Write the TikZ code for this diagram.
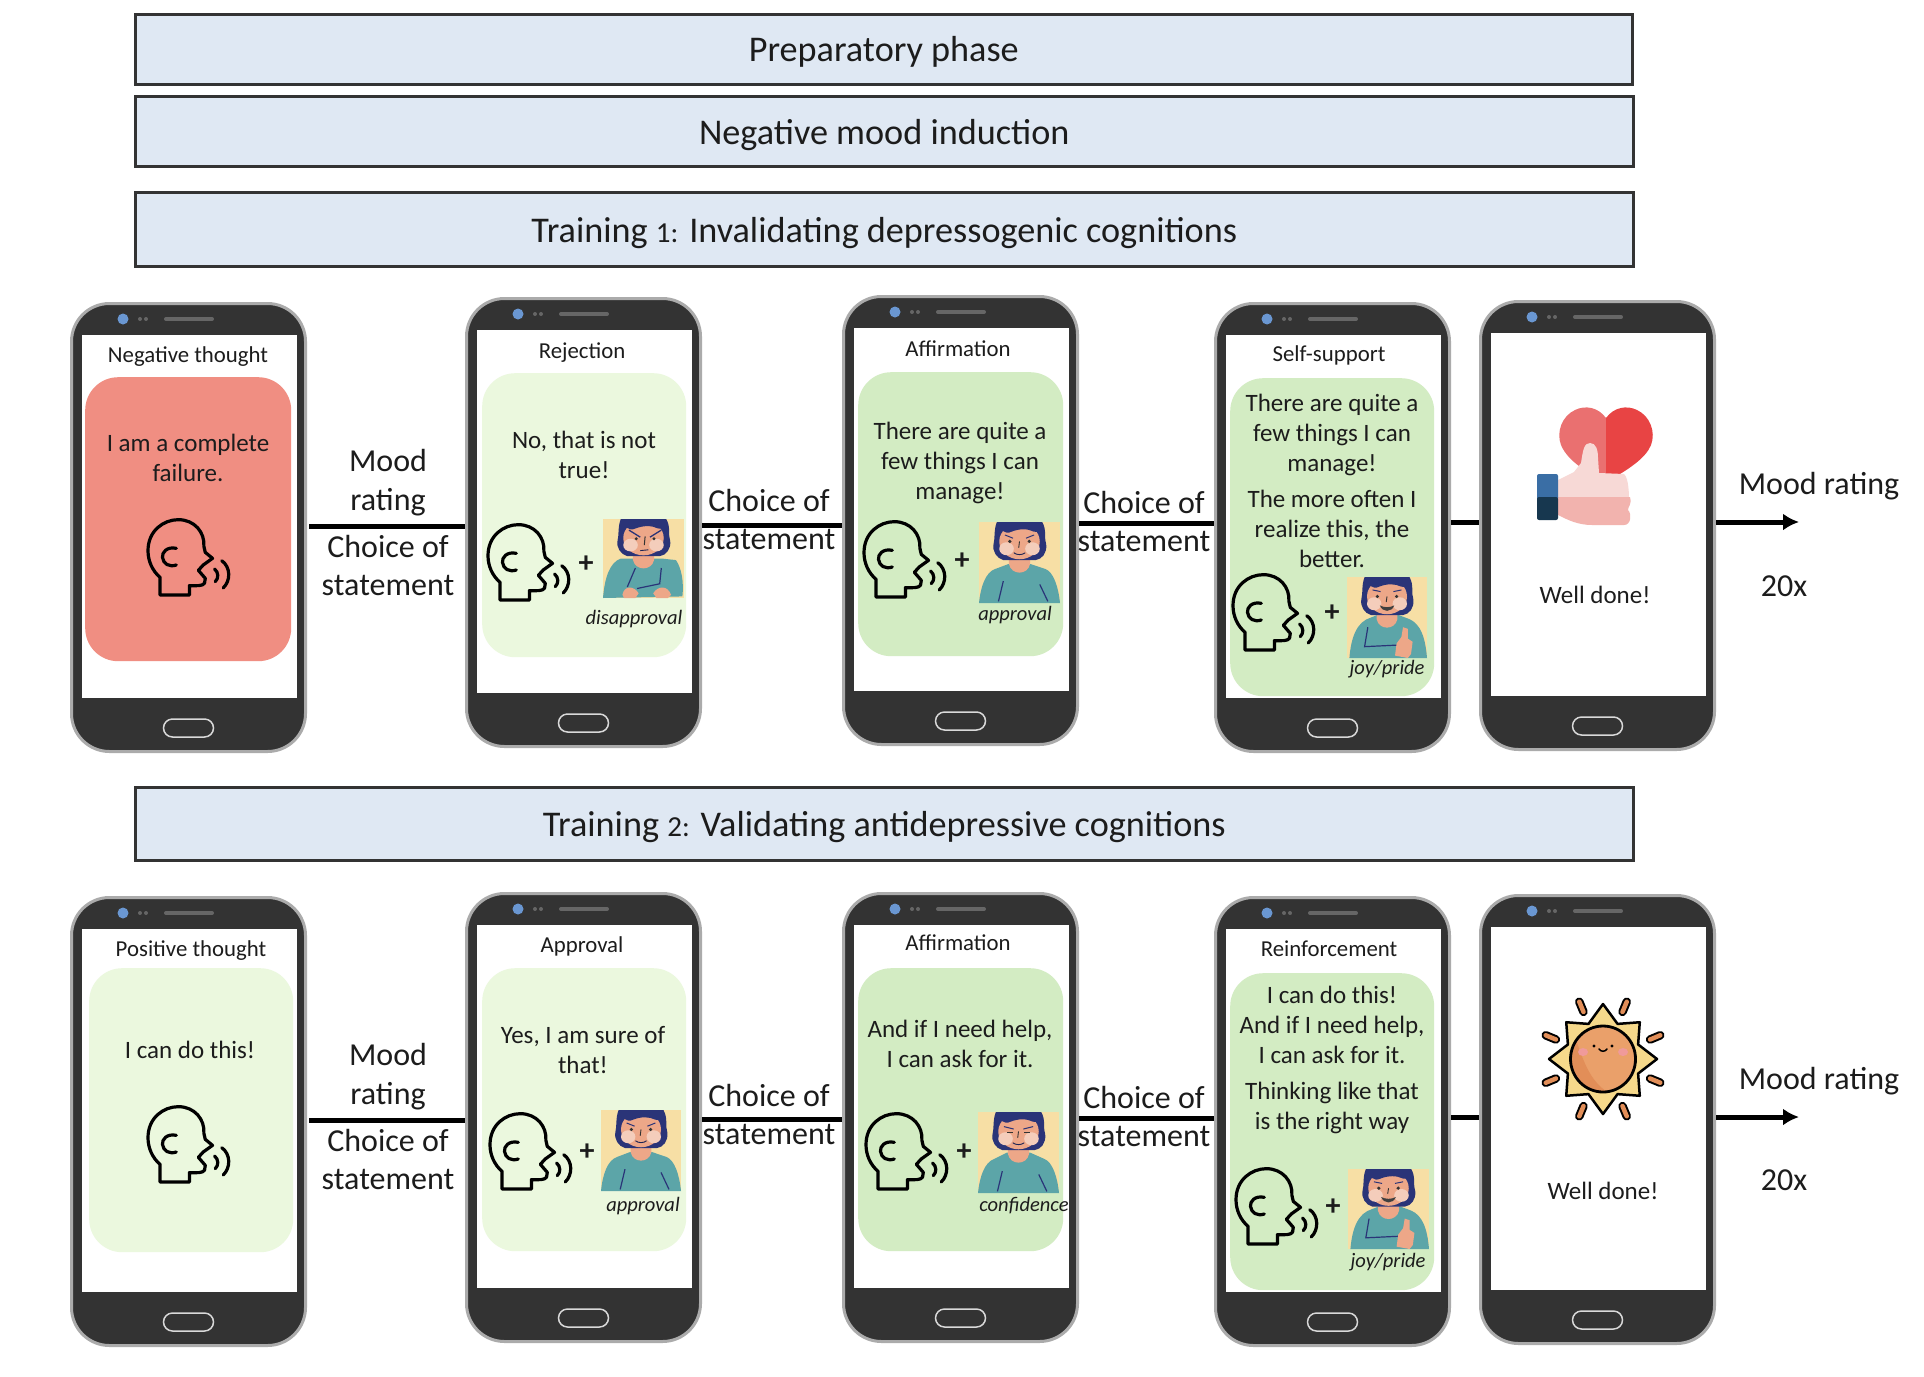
\documentclass[tikz,border=0pt]{standalone}
\usepackage{fontspec}
\setmainfont{Carlito}
\usetikzlibrary{arrows.meta}
\definecolor{txt}{HTML}{1C1C1C}
\definecolor{headfill}{HTML}{DFE8F3}
\definecolor{headline}{HTML}{333333}
\definecolor{phonedark}{HTML}{333333}
\definecolor{phonerim}{HTML}{ABABAB}
\definecolor{camblue}{HTML}{6A97D2}
\definecolor{cardred}{HTML}{F08E82}
\definecolor{cardpale}{HTML}{EBF8DE}
\definecolor{cardgreen}{HTML}{D3ECC3}
\definecolor{ptBack}{HTML}{F7DFA5}
\definecolor{ptBody}{HTML}{5CA5A8}
\definecolor{ptSkin}{HTML}{EDA788}
\definecolor{ptCheek}{HTML}{F4CDBB}
\definecolor{ptNavy}{HTML}{2A3478}
\definecolor{sunBody}{HTML}{EAA06A}
\definecolor{sunShade}{HTML}{E28E58}
\definecolor{sunStar}{HTML}{F6D98B}
\definecolor{sunCheek}{HTML}{F09A9A}
\definecolor{heartA}{HTML}{EA7070}
\definecolor{heartB}{HTML}{E84444}
\definecolor{thumbA}{HTML}{F7D9D6}
\definecolor{thumbB}{HTML}{F2B3AE}
\definecolor{cuffA}{HTML}{3A6EA5}
\definecolor{cuffB}{HTML}{17374F}
\tikzset{
  x=1pt,y=-1pt,
  banner/.style={draw=headline,line width=2.5pt,fill=headfill,inner sep=0,anchor=north west},
  phonebody/.style={draw=phonerim,line width=3pt,fill=phonedark,rounded corners=38pt,
    minimum width=234pt,minimum height=448pt,inner sep=0,anchor=north west},
  screenarea/.style={fill=white,minimum width=215pt,minimum height=363pt,inner sep=0,anchor=north west},
  card/.style={rounded corners=33pt,inner sep=0,anchor=north west},
  lab/.style={inner sep=0,align=center,text=txt},
  fHead/.style={lab,font=\fontsize{36.2}{40}\selectfont},
  fTitle/.style={lab,font=\fontsize{22.8}{30}\selectfont},
  fBody/.style={lab,font=\fontsize{25}{30}\selectfont},
  fPlus/.style={lab,font=\fontsize{30}{30}\selectfont\bfseries},
  fLabel/.style={lab,font=\fontsize{32}{38}\selectfont},
  fTag/.style={lab,font=\fontsize{20.5}{24}\selectfont\itshape},
  link/.style={line width=5pt,draw=black},
  outline/.style={draw=black,line width=3.2pt,line join=round,line cap=round},
}
% Handset: body, screen, camera, speaker grille and home button
\newcommand{\handset}[3]{%
  \node[phonebody] (#1) at (#2,#3) {};
  \node[screenarea] (#1s) at (#2+11.5,#3+33) {};
  \begin{scope}[shift={(#2,#3)}]
    \fill[camblue] (53,17) circle (5.5);
    \fill[black!60] (70,17) circle (2) (76,17) circle (2);
    \draw[black!60,line width=4pt,line cap=round] (96,17) -- (142,17);
    \draw[white!85!black,line width=1.5pt,rounded corners=9pt] (93.5,417) rectangle (143.5,435);
  \end{scope}}
% Speaking head outline with sound waves, placed by its upper-left corner
\newcommand{\speakinghead}[2]{%
  \begin{scope}[shift={(#1,#2)},x=0.345pt,y=-0.3333pt]
    \draw[outline] (35,228) -- (35,175) .. controls (12,155) and (0,125) .. (0,95)
      .. controls (0,35) and (45,2) .. (88,2) .. controls (135,2) and (165,40) .. (162,82)
      -- (166,100) -- (187,118) -- (160,138) -- (146,154) -- (166,178) -- (164,192)
      .. controls (160,202) and (140,200) .. (120,200) -- (120,228) -- cycle;
    \draw[outline] (82,88) .. controls (55,82) and (40,100) .. (42,115)
      .. controls (44,135) and (62,145) .. (82,138);
    \draw[outline] (193,150) .. controls (205,160) and (205,178) .. (195,188);
    \draw[outline] (214,125) .. controls (240,145) and (240,185) .. (218,207);
  \end{scope}}
% Small portrait; case 0 approval, 1 confidence, 2 disapproval, 3 joy/pride
\newcommand{\portraitcard}[5]{%
  \begin{scope}[shift={(#1,#2)},x=#3pt,y=-#4pt]
    \clip (0,0) rectangle (100,100);
    \fill[ptBack] (0,0) rectangle (100,100);
    \ifcase#5\relax
      \fill[ptBody] (0,100) .. controls (2,80) and (8,62) .. (20,58) -- (36,52) -- (64,52) -- (82,58)
        .. controls (92,62) and (98,80) .. (100,100) -- cycle;
      \draw[ptNavy,line width=1.2pt] (30,73) -- (24,98) (75,77) -- (85,98);
    \or
      \fill[ptBody] (0,100) .. controls (2,80) and (8,62) .. (20,58) -- (36,50) -- (64,50) -- (82,58)
        .. controls (92,62) and (98,80) .. (100,100) -- cycle;
      \draw[ptNavy,line width=1.2pt] (30,73) -- (24,98) (75,77) -- (85,98);
    \or
      \fill[ptBody] (0,100) .. controls (2,75) and (8,55) .. (22,50) -- (40,50) -- (72,50) -- (90,52)
        .. controls (97,62) and (100,80) .. (98,98) -- (0,100) -- cycle;
      \draw[ptNavy,line width=1.2pt] (40,62) -- (30,86) (42,88) -- (70,82) -- (72,62);
      \fill[ptSkin] (24,96) .. controls (26,84) and (38,84) .. (44,94) -- (40,100) -- (26,100) -- cycle;
      \fill[ptSkin] (62,94) .. controls (68,84) and (80,84) .. (84,96) -- (80,100) -- (66,100) -- cycle;
    \else
      \fill[ptBody] (3,100) .. controls (5,75) and (12,55) .. (30,50) -- (40,46) -- (62,46) -- (78,52)
        .. controls (92,58) and (98,75) .. (100,100) -- cycle;
      \draw[ptNavy,line width=1.2pt] (26,62) -- (22,86) -- (64,84);
      \fill[ptSkin] (60,97) -- (62,82) -- (68,74) -- (70,62) -- (76,64) -- (76,76) -- (82,80) -- (80,95) -- (76,100) -- cycle;
    \fi
    \fill[ptSkin] (37,36) -- (63,36) -- (63,52) .. controls (60,66) and (40,66) .. (37,52) -- cycle;
    \fill[ptNavy] (22,0) -- (78,0) .. controls (84,10) and (80,20) .. (83,28)
      .. controls (84,38) and (78,46) .. (70,47) -- (30,47) .. controls (22,45) and (16,36) .. (18,27)
      .. controls (20,20) and (18,10) .. (22,0) -- cycle;
    \fill[ptSkin] (50,24) ellipse (25 and 22);
    \fill[ptCheek] (34,33) ellipse (9 and 8) (66,33) ellipse (9 and 8);
    \fill[ptNavy] (24,0) -- (76,0) .. controls (78,8) and (74,14) .. (68,12)
      .. controls (60,8) and (50,8) .. (40,12) .. controls (32,16) and (26,10) .. (24,0) -- cycle;
    \ifcase#5\relax
      \draw[ptNavy,line width=1pt] (32,16) -- (42,20) (68,16) -- (58,20);
      \fill[black!80] (38,24) circle (2.2) (62,24) circle (2.2);
      \draw[black!80,line width=.9pt] (50,24) -- (49,32);
      \draw[ptNavy!70!black,line width=.9pt] (43,38) .. controls (47,41) and (53,41) .. (57,38);
    \or
      \draw[ptNavy,line width=1pt] (32,18) -- (44,21) (68,18) -- (56,21);
      \draw[black!80,line width=1pt] (36,25) -- (43,25) (57,25) -- (64,25);
      \draw[black!80,line width=.9pt] (50,24) -- (49,32);
      \draw[ptNavy!70!black,line width=.9pt] (43,38) .. controls (47,41) and (53,41) .. (57,38);
    \or
      \draw[ptNavy,line width=1.3pt] (32,14) -- (46,23) (72,14) -- (58,23);
      \fill[black!80] (41,25) circle (2) (63,25) circle (2);
      \draw[black!80,line width=1pt] (52,22) -- (51,33);
      \draw[ptNavy!70!black,line width=.9pt] (46,40) -- (56,39);
    \else
      \draw[ptNavy,line width=1pt] (32,16) -- (42,18) (68,16) -- (58,18);
      \fill[black!80] (38,24) circle (2.2) (62,24) circle (2.2);
      \draw[black!80,line width=.9pt] (50,24) -- (49,31);
      \fill[black!75] (41,35) .. controls (46,38) and (54,38) .. (59,35) .. controls (56,44) and (44,44) .. (41,35) -- cycle;
    \fi
  \end{scope}}
\begin{document}
\begin{tikzpicture}
\useasboundingbox (0,0) rectangle (1924,1376);
\fill[white] (0,0) rectangle (1924,1376);

% Phase banners
\node[banner,minimum width=1497pt,minimum height=70pt] (b1) at (134,13) {};
\node[fHead] (b1t) at ([yshift=-3pt]b1.center) {Preparatory phase};
\node[banner,minimum width=1498pt,minimum height=70pt] (b2) at (134,95) {};
\node[fHead] (b2t) at ([yshift=-4pt]b2.center) {Negative mood induction};
\node[banner,minimum width=1498pt,minimum height=74pt] (b3) at (134,191) {};
\node[fHead] (b3t) at ([yshift=-4pt]b3.center) {Training {\fontsize{29}{40}\selectfont 1:} Invalidating depressogenic cognitions};
\node[banner,minimum width=1498pt,minimum height=73pt] (b4) at (134,786) {};
\node[fHead] (b4t) at ([yshift=-3pt]b4.center) {Training {\fontsize{29}{40}\selectfont 2:} Validating antidepressive cognitions};

% Handsets of both training rows
\handset{pa}{70}{302}
\handset{pb}{465}{297}
\handset{pc}{842}{295}
\handset{pd}{1214}{302}
\handset{pe}{1479}{300}
\handset{qa}{70}{896}
\handset{qb}{465}{892}
\handset{qc}{842}{892}
\handset{qd}{1214}{896}
\handset{qe}{1479}{894}

% Heights of the links between handsets
\coordinate (la) at (0,526);
\coordinate (lb) at (0,525);
\coordinate (lc) at (0,523);
\coordinate (ld) at (0,522);
\coordinate (le) at (1799,522);
\coordinate (ma) at (0,1120);
\coordinate (mb) at (0,1119);
\coordinate (mc) at (0,1118);
\coordinate (md) at (0,1117);
\coordinate (me) at (1799,1117);

\draw[link,shorten <=2pt] (pa.east |- la) -- (pb.west |- la);
\draw[link] (pb.east |- lb) -- (pc.west |- lb);
\draw[link] (pc.east |- lc) -- (pd.west |- lc);
\draw[link] (pd.east |- ld) -- (pe.west |- ld);
\draw[link,-{Latex[length=16pt,width=17pt]}] (pe.east |- le) -- (le);
\draw[link,shorten <=2pt] (qa.east |- ma) -- (qb.west |- ma);
\draw[link] (qb.east |- mb) -- (qc.west |- mb);
\draw[link] (qc.east |- mc) -- (qd.west |- mc);
\draw[link] (qd.east |- md) -- (qe.west |- md);
\draw[link,-{Latex[length=16pt,width=17pt]}] (qe.east |- me) -- (me);

% Link labels, first row
\node[fLabel] (t1) at (388,483) {Mood\\[1pt]rating};
\node[fLabel] (t2) at (388,565) {Choice of\\statement};
\node[fLabel] (t3) at (769,519) {Choice of\\statement};
\node[fLabel] (t4) at (1144,521) {Choice of\\statement};
\node[fLabel] (t5) at (1819,486) {Mood rating};
\node[fLabel] (t6) at (1784,586) {20x};
% Link labels, second row
\node[fLabel] (u1) at (388,1077) {Mood\\[1pt]rating};
\node[fLabel] (u2) at (388,1159) {Choice of\\statement};
\node[fLabel] (u3) at (769,1114) {Choice of\\statement};
\node[fLabel] (u4) at (1144,1116) {Choice of\\statement};
\node[fLabel] (u5) at (1819,1081) {Mood rating};
\node[fLabel] (u6) at (1784,1180) {20x};

% First row: negative thought
\node[fTitle] (pat) at (188,357) {Negative thought};
\node[card,fill=cardred,minimum width=206pt,minimum height=284pt] (pac) at (85,377) {};
\node[fBody] (pax) at (188,458) {I am a complete\\failure.};
\speakinghead{148}{519}

% First row: rejection
\node[fTitle] (pbt) at (582,353) {Rejection};
\node[card,fill=cardpale,minimum width=204pt,minimum height=284pt] (pbc) at (482,373) {};
\node[fBody] (pbx) at (584,455) {No, that is not\\true!};
\speakinghead{488}{524}
\node[fPlus] (pbp) at (586,564) {+};
\portraitcard{603}{519}{.81}{.79}{2}
\node[fTag] (pbg) at (634,619) {disapproval};

% First row: affirmation
\node[fTitle] (pct) at (958,349) {Affirmation};
\node[card,fill=cardgreen,minimum width=205pt,minimum height=284pt] (pcc) at (858,372) {};
\node[fBody] (pcx) at (960,463) {There are quite a\\few things I can\\manage!};
\speakinghead{864}{521}
\node[fPlus] (pcp) at (962,561) {+};
\portraitcard{979}{522}{.81}{.81}{0}
\node[fTag] (pcg) at (1015,615) {approval};

% First row: self-support
\node[fTitle] (pdt) at (1329,355) {Self-support};
\node[card,fill=cardgreen,minimum width=204pt,minimum height=318pt] (pdc) at (1230,378) {};
\node[fBody] (pdx) at (1332,481) {There are quite a\\few things I can\\manage!\\[6pt]The more often I\\realize this, the\\better.};
\speakinghead{1233}{574}
\node[fPlus] (pdp) at (1332,613) {+};
\portraitcard{1347}{577}{.80}{.81}{3}
\node[fTag] (pdg) at (1387,669) {joy/pride};

% First row: closing screen with heart and thumb
\fill[heartA] (1606,418) .. controls (1598,407) and (1585,405) .. (1575,410)
  .. controls (1562,416) and (1556,432) .. (1561,445) .. controls (1568,462) and (1590,474) .. (1606,482) -- cycle;
\fill[heartB] (1606,418) .. controls (1614,407) and (1627,405) .. (1637,410)
  .. controls (1650,416) and (1656,432) .. (1651,445) .. controls (1646,458) and (1628,470) .. (1606,482) -- cycle;
\begin{scope}
  \clip (1550,430) rectangle (1640,497);
  \fill[thumbA] (1558,480) -- (1574,472) -- (1581,463) .. controls (1583,450) and (1584,443) .. (1590,443)
    .. controls (1596,443) and (1598,450) .. (1598,458) -- (1599,473) -- (1624,474)
    .. controls (1629,478) and (1629,497) .. (1629,500) -- (1558,500) -- cycle;
\end{scope}
\fill[thumbB] (1558,497) -- (1630,497) .. controls (1632,505) and (1628,506) .. (1628,510)
  .. controls (1632,514) and (1631,525) .. (1624,525) -- (1592,525) .. controls (1578,525) and (1568,520) .. (1558,515) -- cycle;
\fill[cuffA,rounded corners=2pt] (1537,474) rectangle (1558,500);
\fill[cuffB,rounded corners=2pt] (1537,497) rectangle (1558,520);
\node[fBody] (pew) at (1595,595) {Well done!};

% Second row: positive thought
\node[fTitle] (qat) at (191,951) {Positive thought};
\node[card,fill=cardpale,minimum width=204pt,minimum height=284pt] (qac) at (89,968) {};
\node[fBody] (qax) at (190,1050) {I can do this!};
\speakinghead{148}{1106}

% Second row: approval
\node[fTitle] (qbt) at (582,946) {Approval};
\node[card,fill=cardpale,minimum width=204pt,minimum height=283pt] (qbc) at (482,968) {};
\node[fBody] (qbx) at (583,1050) {Yes, I am sure of\\that!};
\speakinghead{490}{1113}
\node[fPlus] (qbp) at (587,1152) {+};
\portraitcard{601}{1110}{.80}{.81}{0}
\node[fTag] (qbg) at (643,1206) {approval};

% Second row: affirmation
\node[fTitle] (qct) at (958,943) {Affirmation};
\node[card,fill=cardgreen,minimum width=205pt,minimum height=283pt] (qcc) at (858,968) {};
\node[fBody] (qcx) at (960,1044) {And if I need help,\\I can ask for it.};
\speakinghead{866}{1113}
\node[fPlus] (qcp) at (964,1152) {+};
\portraitcard{978}{1112}{.81}{.81}{1}
\node[fTag] (qcg) at (1024,1206) {confidence};

% Second row: reinforcement
\node[fTitle] (qdt) at (1329,949) {Reinforcement};
\node[card,fill=cardgreen,minimum width=204pt,minimum height=317pt] (qdc) at (1230,973) {};
\node[fBody] (qdx) at (1332,1060) {I can do this!\\And if I need help,\\I can ask for it.\\[6pt]Thinking like that\\is the right way};
\speakinghead{1236}{1168}
\node[fPlus] (qdp) at (1333,1207) {+};
\portraitcard{1348}{1169}{.81}{.80}{3}
\node[fTag] (qdg) at (1388,1262) {joy/pride};

% Second row: closing screen with sun
\begin{scope}[shift={(1603,1059)}]
  \foreach \a in {22.5,67.5,...,337.5}
    \draw[draw=black,line width=8.5pt,line cap=round] (\a:51) -- (\a:62);
  \foreach \a in {22.5,67.5,...,337.5}
    \draw[draw=sunShade,line width=4.5pt,line cap=round] (\a:51) -- (\a:62);
  \draw[fill=sunStar,draw=black,line width=2.5pt,line join=round]
    (0:54) -- (22.5:38) -- (45:52) -- (67.5:38) -- (90:55) -- (112.5:38) -- (135:52) -- (157.5:38)
    -- (180:54) -- (202.5:38) -- (225:52) -- (247.5:38) -- (270:55) -- (292.5:38) -- (315:52) -- (337.5:38) -- cycle;
  \fill[sunBody] (0,0) ellipse (32.5 and 33);
  \begin{scope}
    \clip (0,0) ellipse (32.5 and 33);
    \fill[sunShade] (-33,-34) .. controls (-22,-10) and (-18,20) .. (6,34) -- (-33,34) -- cycle;
  \end{scope}
  \draw[draw=black,line width=2.8pt] (0,0) ellipse (32.5 and 33);
  \fill[sunCheek] (-20,-7) ellipse (5 and 4) (20,-7) ellipse (5 and 4);
  \fill[black] (-9,-13) circle (1.6) (9,-13) circle (1.6);
  \draw[black,line width=1.5pt,line cap=round] (-4,-10) .. controls (-2,-7) and (2,-7) .. (4,-10);
\end{scope}
\node[fBody] (qew) at (1603,1191) {Well done!};
\end{tikzpicture}
\end{document}
